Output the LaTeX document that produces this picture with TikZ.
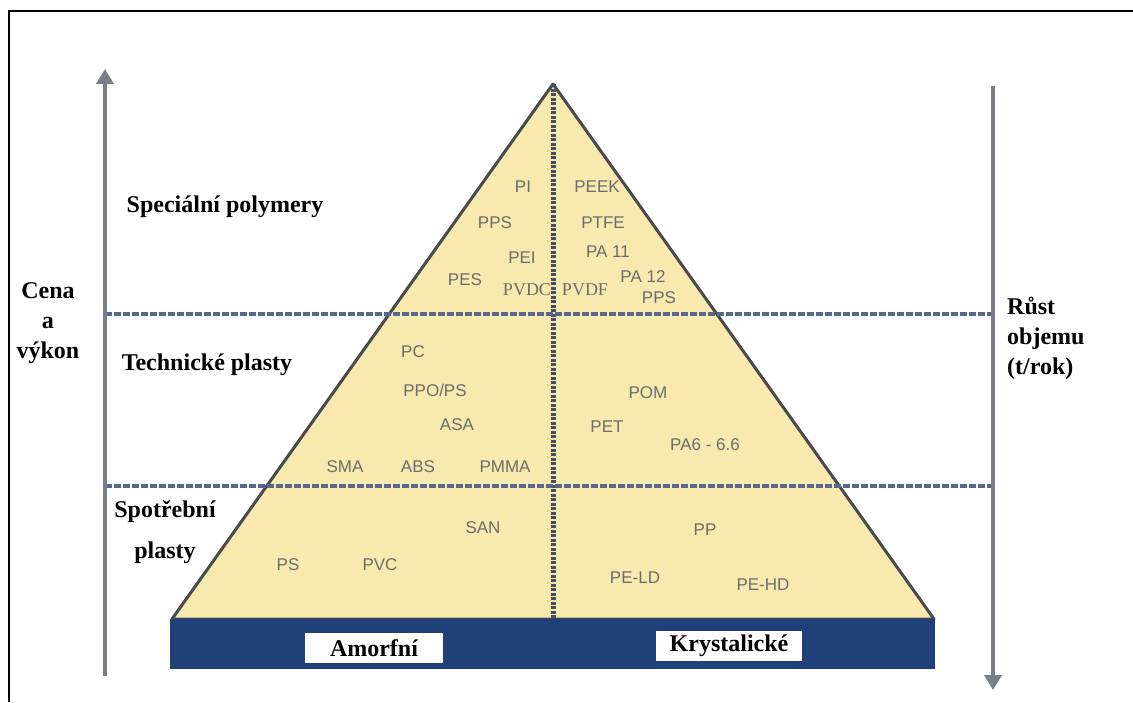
\documentclass[tikz,border=0pt]{standalone}
\usepackage{fontspec}
\setmainfont{Liberation Serif}
\newfontfamily\labelfont{Liberation Sans}
\usetikzlibrary{arrows.meta}
\usetikzlibrary{positioning}

\definecolor{pyrfill}{RGB}{248,234,174}
\definecolor{pyredge}{RGB}{72,74,78}
\definecolor{dashblue}{RGB}{88,102,142}
\definecolor{midline}{RGB}{70,78,94}
\definecolor{axisgray}{RGB}{122,126,136}
\definecolor{barblue}{RGB}{32,64,122}
\definecolor{polygray}{RGB}{108,108,108}

\begin{document}
\begin{tikzpicture}[x=1pt, y=-1pt,
    classlabel/.style={font=\fontsize{24}{30}\selectfont\bfseries, inner sep=0pt},
    poly/.style={font=\labelfont\fontsize{17}{17}\selectfont, text=polygray, inner sep=0pt},
    polyserif/.style={font=\fontsize{18}{18}\selectfont, text=polygray, inner sep=0pt},
    levelline/.style={draw=dashblue, line width=4pt, dash pattern=on 7pt off 2pt},
    axis/.style={draw=axisgray, line width=4.5pt, -{Triangle[width=17pt,length=15pt]}}]
        \useasboundingbox (0,0) rectangle (1133,702);
        \fill[white] (0,0) rectangle (1133,702);

        % Frame (top and left only)
        \draw[line width=2.5pt] (9,702) -- (9,11) -- (1133,11);

        % Pyramid corners
        \coordinate (apex) at (553,84);
        \coordinate (bl) at (172,619);
        \coordinate (br) at (934,619);
        \coordinate (mbot) at (553,619);

        % Draw the pyramid and the split between amorphous and crystalline
        \filldraw[fill=pyrfill, draw=pyredge, line width=3pt, line join=round] (bl) -- (apex) -- (br) -- cycle;
        \draw[draw=midline, line width=5pt, dash pattern=on 3pt off 1.5pt] (apex) -- (mbot);

        % Level borders
        \coordinate (l1a) at (105,314);
        \coordinate (l1b) at (993,314);
        \coordinate (l2a) at (105,486);
        \coordinate (l2b) at (993,486);
        \draw[levelline] (l1a) -- (l1b);
        \draw[levelline] (l2a) -- (l2b);

        % Axes
        \coordinate (lbot) at (105,676);
        \coordinate (ltop) at (105,69);
        \coordinate (rtop) at (993,86);
        \coordinate (rbot) at (993,690);
        \draw[axis] (lbot) -- (ltop);
        \draw[axis] (rtop) -- (rbot);

        % Base bar with its two labels
        \fill[barblue] (170,619) rectangle (935,669);
        \node[classlabel, fill=white, minimum width=138pt, minimum height=30pt] (amorf) at (374,648) {Amorfní};
        \node[classlabel, fill=white, minimum width=146pt, minimum height=30pt] (kryst) at (729,646) {Krystalické};

        % Level and axis labels
        \node[classlabel] (spec) at (225,207) {Speciální polymery};
        \node[classlabel] (tech) at (207,365) {Technické plasty};
        \node[classlabel, align=center] (spot) at (165,532) {Spotřební\\[11pt]plasty};
        \node[classlabel, align=center] (cena) at (48,323) {Cena\\a\\výkon};
        \node[classlabel, align=left, anchor=west] (rust) at (1007,338) {Růst\\objemu\\(t/rok)};

        % Polymers
        \foreach \nm/\px/\py/\txt in {pi/523/187/PI, peek/597/187/PEEK, ppsa/495/223/PPS,
            ptfe/603/223/PTFE, pei/522/258/PEI, paeleven/608/252/PA 11, pes/465/280/PES,
            patwelve/643/277/PA 12, ppsb/659/298/PPS,
            pc/413/352/PC, ppo/435/390/{PPO/PS}, asa/457/425/ASA, pom/648/393/POM,
            pet/607/427/PET, pasix/705/445/PA6 - 6.6, sma/345/467/SMA, abs/418/467/ABS,
            pmma/505/467/PMMA, san/483/528/SAN, ps/288/565/PS, pvc/380/565/PVC,
            pp/705/530/PP, peld/635/578/PE-LD, pehd/763/585/PE-HD}
        {
          \node[poly] (\nm) at (\px,\py) {\txt};
        }
        \node[polyserif] (pvdc) at (527,290) {PVDC};
        \node[polyserif] (pvdf) at (585,290) {PVDF};
      \end{tikzpicture}
\end{document}
